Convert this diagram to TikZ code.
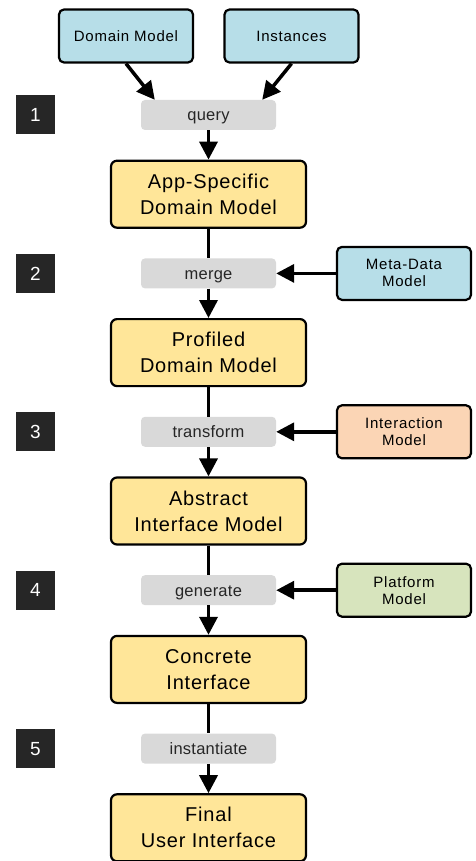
\documentclass[tikz,border=0pt]{standalone}
\usepackage{fontspec}
\setmainfont{Liberation Sans}[LetterSpace=5]
\usetikzlibrary{arrows.meta,positioning}

\definecolor{srcblue}{RGB}{183,222,232}
\definecolor{stageyellow}{RGB}{255,230,153}
\definecolor{stepgray}{RGB}{217,217,217}
\definecolor{interpeach}{RGB}{251,213,181}
\definecolor{platgreen}{RGB}{215,228,189}
\definecolor{badgegray}{RGB}{38,38,38}

\begin{document}
\begin{tikzpicture}[x=1pt,y=-1pt,node distance=79.2pt,on grid,
    >={Triangle[length=18pt,width=18pt]},
    flow/.style={line width=3.5pt},
    stage/.style={draw,line width=2.2pt,rounded corners=6pt,fill=stageyellow,
        minimum width=195pt,minimum height=67pt,align=center,
        font=\addfontfeatures{LetterSpace=4}\fontsize{20}{26}\selectfont},
    action/.style={fill=stepgray,rounded corners=4pt,minimum width=135pt,
        minimum height=30pt,text height=13.5pt,text depth=1.5pt,text=badgegray,
        font=\addfontfeatures{LetterSpace=1.5}\fontsize{16.5}{18}\selectfont},
    input/.style={draw,line width=2.2pt,rounded corners=5pt,minimum width=134pt,
        minimum height=53pt,align=center,font=\fontsize{15}{17}\selectfont},
    badge/.style={fill=badgegray,text=white,minimum size=39pt,
        font=\fontsize{19}{19}\selectfont}]
    \useasboundingbox (0,0) rectangle (475,861);

    \node[action] (query) at (208.5,115) {query};
    \node[stage] (app) [below=of query] {App-Specific\\Domain Model};
    \node[action] (merge) [below=of app] {merge};
    \node[stage] (prof) [below=of merge] {Profiled\\Domain Model};
    \node[action] (transform) [below=of prof] {transform};
    \node[stage] (abstract) [below=of transform] {Abstract\\Interface Model};
    \node[action] (generate) [below=of abstract] {generate};
    \node[stage] (concrete) [below=of generate] {Concrete\\Interface};
    \node[action] (instantiate) [below=of concrete] {instantiate};
    \node[stage] (final) [below=of instantiate] {Final\\User Interface};

    \node[badge] (b1) [left=173pt of query] {1};
    \node[badge] (b2) [left=173pt of merge] {2};
    \node[badge] (b3) [left=173pt of transform] {3};
    \node[badge] (b4) [left=173pt of generate] {4};
    \node[badge] (b5) [left=173pt of instantiate] {5};

    \node[input,fill=srcblue] (dom) at (126,36) {Domain Model};
    \node[input,fill=srcblue] (inst) at (291.5,36) {Instances};
    \node[input,fill=srcblue] (meta) [right=195.5pt of merge] {Meta-Data\\Model};
    \node[input,fill=interpeach] (inter) [right=195.5pt of transform] {Interaction\\Model};
    \node[input,fill=platgreen] (plat) [right=195.5pt of generate] {Platform\\Model};

    \path[->,flow]
    (dom.south) edge ([xshift=14pt]query.north west)
    (inst.south) edge ([xshift=-14pt]query.north east)
    (query) edge (app)
    (merge) edge (prof)
    (transform) edge (abstract)
    (generate) edge (concrete)
    (instantiate) edge (final)
    (meta) edge (merge)
    (inter) edge (transform)
    (plat) edge (generate);
    \path[flow]
    (app) edge (merge)
    (prof) edge (transform)
    (abstract) edge (generate)
    (concrete) edge (instantiate);

\end{tikzpicture}
\end{document}
